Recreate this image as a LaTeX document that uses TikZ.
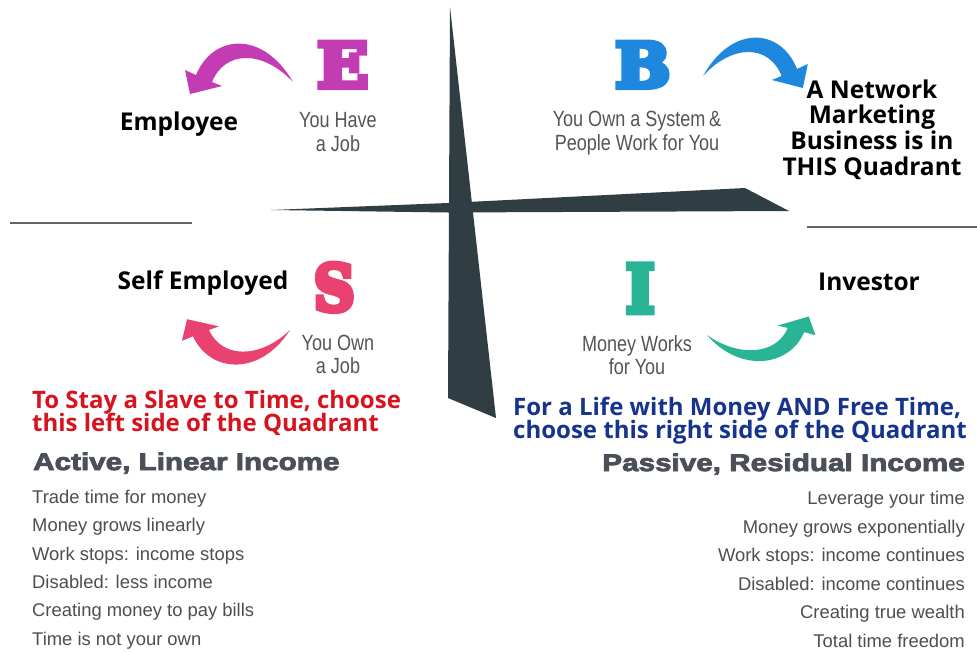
\documentclass[tikz,border=0pt]{standalone}
\usepackage{fontspec}
\usepackage{graphicx}
\newfontfamily\labfont{Open Sans}
\newfontfamily\condfont[FakeStretch=0.82]{Liberation Sans}
\newfontfamily\listfont{Liberation Sans}
\newfontfamily\heavyfont[FakeStretch=1.235, BoldFeatures={FakeBold=3.5}]{Liberation Sans}
\newfontfamily\letterfont[BoldFeatures={FakeBold=9}]{DejaVu Serif}

\definecolor{quadE}{RGB}{196,60,180}
\definecolor{quadB}{RGB}{30,136,222}
\definecolor{quadS}{RGB}{234,66,112}
\definecolor{quadI}{RGB}{42,180,150}
\definecolor{crossink}{RGB}{48,62,68}
\definecolor{rulegray}{RGB}{100,100,100}
\definecolor{capgray}{RGB}{85,85,85}
\definecolor{headred}{RGB}{215,20,30}
\definecolor{headblue}{RGB}{22,52,140}
\definecolor{heavygray}{RGB}{75,80,88}
\definecolor{listgray}{RGB}{78,78,78}

\tikzset{
  labtext/.style={font=\labfont\bfseries\fontsize{24.5}{26}\selectfont, text=black, inner sep=0pt},
  captext/.style={font=\condfont\fontsize{22}{24}\selectfont, text=capgray, inner sep=0pt},
  redhead/.style={font=\labfont\bfseries\fontsize{24}{22}\selectfont, text=headred, inner sep=0pt},
  bluehead/.style={font=\labfont\bfseries\fontsize{24}{22}\selectfont, text=headblue, inner sep=0pt},
  heavytext/.style={font=\heavyfont\bfseries\fontsize{24}{24}\selectfont, text=heavygray, inner sep=0pt},
  listtext/.style={font=\listfont\fontsize{18.4}{20}\selectfont, text=listgray, inner sep=0pt},
  bigletter/.style={inner sep=0pt, anchor=south west},
  % curved arrow: tail at the origin, head to the lower left
  quadarrow/.pic={
    \fill (0,0) .. controls (-30,-52) and (-80,-48) .. (-97,-7)
      -- (-108,-12) -- (-103,12) -- (-71,4) -- (-81,0)
      .. controls (-68,-32) and (-30,-32) .. cycle;
  }
}

\begin{document}
\begin{tikzpicture}[x=1pt,y=-1pt]
\useasboundingbox (0,0) rectangle (977,651);
\fill[white] (0,0) rectangle (977,651);

% side rules
\draw[rulegray, line width=2.2pt] (10,223) -- (192,223);
\draw[rulegray, line width=2.2pt] (807,227) -- (977,227);

% the cross
\fill[crossink] (271,210) -- (448,203) -- (745,188) -- (789,211) -- (448,212.5) -- cycle;
\fill[crossink] (450,7) -- (496,418) -- (448,398) -- cycle;

% quadrant letters (the outline stroke adds about 2.5pt on each side)
\node[bigletter, text=quadE] (letE) at (317,87.5) {\resizebox{51pt}{45pt}{\letterfont\bfseries E}};
\node[bigletter, text=quadB] (letB) at (615,87.5) {\resizebox{55pt}{45pt}{\letterfont\bfseries B}};
\node[bigletter, text=quadS] (letS) at (313.5,311.5) {\resizebox{41pt}{47pt}{\letterfont\bfseries S}};
\node[bigletter, text=quadI] (letI) at (625.5,312.5) {\resizebox{29pt}{48pt}{\letterfont\bfseries I}};

% curved arrows
\pic[fill=quadE] at (293,82) {quadarrow};
\pic[fill=quadB, xscale=-0.97] at (703,76) {quadarrow};
\pic[fill=quadS, yscale=-0.9] at (290,330) {quadarrow};
\pic[fill=quadI, rotate=5, xscale=-1, yscale=-0.8] at (707,335) {quadarrow};

% captions under the letters
\node[captext, anchor=base] (capE1) at (338,127) {You Have};
\node[captext, anchor=base] (capE2) at (338,151.5) {a Job};
\node[captext, anchor=base] (capB1) at (637,126) {You Own a System\,\&};
\node[captext, anchor=base] (capB2) at (637,150) {People Work for You};
\node[captext, anchor=base] (capS1) at (338,350) {You Own};
\node[captext, anchor=base] (capS2) at (338,373.5) {a Job};
\node[captext, anchor=base] (capI1) at (637,351) {Money Works};
\node[captext, anchor=base] (capI2) at (637,374) {for You};

% quadrant names
\node[labtext, anchor=base] (emp) at (179,130) {Employee};
\node[labtext, anchor=base] (self) at (203,289) {Self Employed};
\node[labtext, anchor=base] (inv) at (869,290) {Investor};
\node[labtext, anchor=base] (net1) at (872,98) {A Network};
\node[labtext, anchor=base] (net2) at (872,123) {Marketing};
\node[labtext, anchor=base] (net3) at (872,149) {Business is in};
\node[labtext, anchor=base] (net4) at (872,175) {THIS Quadrant};

% left side
\node[redhead, anchor=base west] (red1) at (32,408) {To Stay a Slave to Time, choose};
\node[redhead, anchor=base west] (red2) at (32,431.5) {this left side of the Quadrant};
\node[heavytext, anchor=base west] (active) at (33,470) {Active, Linear Income};
\node[listtext, anchor=base west] (l1) at (32,503) {Trade time for money};
\node[listtext, anchor=base west] (l2) at (32,531.5) {Money grows linearly};
\node[listtext, anchor=base west] (l3) at (32,560) {Work stops: income stops};
\node[listtext, anchor=base west] (l4) at (32,588) {Disabled: less income};
\node[listtext, anchor=base west] (l5) at (32,616.5) {Creating money to pay bills};
\node[listtext, anchor=base west] (l6) at (32,645) {Time is not your own};

% right side
\node[bluehead, anchor=base west] (blue1) at (513,415.5) {For a Life with Money AND Free Time,};
\node[bluehead, anchor=base west] (blue2) at (513,438.5) {choose this right side of the Quadrant};
\node[heavytext, anchor=base east] (passive) at (965,471) {Passive, Residual Income};
\node[listtext, anchor=base east] (r1) at (965,504) {Leverage your time};
\node[listtext, anchor=base east] (r2) at (965,533) {Money grows exponentially};
\node[listtext, anchor=base east] (r3) at (965,561.5) {Work stops: income continues};
\node[listtext, anchor=base east] (r4) at (965,590) {Disabled: income continues};
\node[listtext, anchor=base east] (r5) at (965,618.5) {Creating true wealth};
\node[listtext, anchor=base east] (r6) at (965,647) {Total time freedom};
\end{tikzpicture}
\end{document}
